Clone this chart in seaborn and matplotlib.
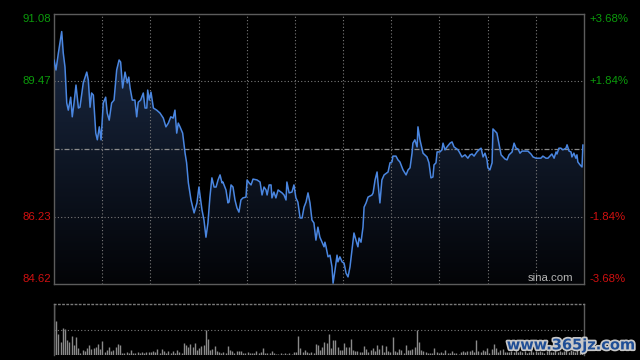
"""Intraday price and volume chart in the sina.com style."""

import numpy as np
import seaborn as sns
import matplotlib.pyplot as plt
import matplotlib.patheffects as pe
from matplotlib.colors import LinearSegmentedColormap
from matplotlib.transforms import blended_transform_factory

# --- data --------------------------------------------------------------
prev_close = 87.85
price_top = 91.08
price_bottom = 84.62
session_minutes = 241

minutes = [
    0.0, 0.9, 2.0, 3.5, 4.2, 5.0, 5.8, 6.5, 7.6, 8.3,
    9.1, 10.0, 11.1, 11.8, 13.3, 14.9, 15.6, 16.4, 17.1, 17.9,
    19.0, 19.7, 20.6, 21.4, 22.4, 23.5, 24.2, 25.1, 26.2, 27.3,
    28.5, 29.6, 30.3, 31.2, 32.3, 33.3, 34.0, 34.6, 35.6, 36.8,
    37.6, 38.3, 39.4, 40.6, 41.4, 42.2, 42.6, 43.3, 44.1, 45.2,
    46.7, 48.2, 49.7, 50.9, 52.0, 53.1, 54.2, 55.0, 55.8, 56.5,
    57.3, 58.5, 59.6, 60.3, 61.1, 61.8,
    62.3, 63.7, 65.0, 65.9, 67.3, 68.2, 69.1, 70.0, 70.9, 71.8,
    72.8, 73.7, 74.6, 75.5, 76.4, 76.8, 78.2, 79.1, 79.6, 80.5,
    81.4, 82.3, 83.2, 84.1, 85.0, 85.9, 87.3, 87.8, 88.7, 89.6,
    90.5, 92.3, 93.7, 94.6, 95.5, 96.4, 96.9, 97.8, 98.7, 99.1,
    100.0, 100.9, 101.9, 103.7, 104.6, 105.5, 105.9, 106.9, 108.2, 109.1,
    110.0, 110.9, 111.9, 112.8, 113.7, 114.6, 115.5, 116.4, 117.3, 118.2,
    119.1, 120.0, 120.9, 121.9, 122.8,
    123.2, 123.7, 124.6, 125.5, 126.4, 126.9, 127.8, 128.7, 129.1, 130.0,
    131.0, 131.9, 132.8, 133.7, 134.6, 135.5, 136.4, 137.3, 138.2, 138.7,
    139.6, 140.5, 141.0, 141.9, 142.8, 144.6, 145.1, 146.0, 146.9, 147.3,
    148.2, 149.1, 150.1, 151.4, 151.9, 152.8, 153.7, 154.1, 155.5, 156.4,
    157.3, 158.2, 158.7, 160.1, 161.0, 161.9, 162.8, 163.2, 164.1, 165.1,
    165.5, 166.4, 167.3, 167.8, 169.6, 170.5, 171.4, 172.3, 172.8, 173.7,
    174.2, 175.5, 176.4, 176.9, 177.8, 178.7, 180.1, 181.0, 181.9,
    183.7, 184.6, 185.5, 186.9, 188.2, 189.2, 190.1, 191.0, 192.3, 193.2,
    194.2, 195.1, 196.0, 196.9, 197.3, 198.2, 199.2, 199.6, 200.5, 201.4,
    202.3, 203.3, 204.2, 205.1, 206.0, 206.9, 208.3, 209.2, 210.1, 211.0,
    211.9, 212.8, 214.2, 215.5, 216.9, 217.8, 219.2, 220.1, 221.4, 222.3,
    223.7, 224.6, 225.5, 226.4, 227.4, 228.3, 228.7, 229.6, 230.5, 231.4,
    232.8, 233.3, 234.2, 235.1, 235.5, 236.4, 237.3, 237.8, 238.2, 239.2,
    240.1, 240.5,
]

prices = [
    89.98, 89.74, 90.15, 90.66, 90.15, 89.81, 88.95, 88.78, 89.09, 88.62,
    88.95, 89.38, 88.83, 88.85, 89.43, 89.69, 89.50, 88.85, 89.19, 89.14,
    88.23, 88.07, 88.38, 88.07, 88.95, 89.09, 88.71, 88.54, 88.95, 89.02,
    89.74, 89.98, 89.93, 89.31, 89.69, 89.43, 89.57, 89.31, 89.02, 89.02,
    88.62, 88.97, 89.02, 89.19, 88.83, 88.83, 89.26, 89.02, 89.21, 88.83,
    88.78, 88.71, 88.59, 88.38, 88.47, 88.62, 88.59, 88.78, 88.23, 88.47,
    88.38, 88.23, 87.75, 87.52, 87.04, 86.80,
    86.63, 86.32, 86.56, 86.94, 86.39, 86.15, 85.74, 86.08, 86.70, 87.16,
    86.94, 86.94, 87.11, 87.23, 87.04, 87.06, 86.87, 86.56, 86.58, 86.99,
    86.94, 86.63, 86.44, 86.34, 86.63, 86.68, 86.70, 87.11, 87.04, 86.99,
    87.13, 87.11, 87.06, 86.75, 86.94, 86.87, 86.75, 86.99, 86.99, 86.68,
    86.82, 86.68, 86.87, 86.80, 86.75, 86.63, 87.06, 86.80, 86.82, 86.99,
    86.68, 86.58, 86.20, 86.20, 86.46, 86.58, 86.80, 86.56, 86.15, 86.08,
    85.67, 85.98, 85.74, 85.62, 85.51,
    85.62, 85.51, 85.27, 85.31, 85.03, 84.64, 84.96, 85.31, 85.15, 85.27,
    85.15, 85.12, 84.88, 84.79, 85.03, 85.43, 85.84, 85.67, 85.51, 85.72,
    85.62, 85.98, 86.46, 86.56, 86.70, 86.75, 86.80, 87.11, 87.30, 87.06,
    86.56, 87.11, 87.23, 87.28, 87.30, 87.52, 87.54, 87.68, 87.68, 87.59,
    87.54, 87.42, 87.35, 87.23, 87.35, 87.40, 87.75, 87.99, 88.07, 87.90,
    88.38, 88.07, 87.87, 87.75, 87.66, 87.52, 87.16, 87.18, 87.47, 87.52,
    87.78, 87.78, 87.83, 87.99, 87.83, 87.90, 87.99, 88.02, 87.90,
    87.83, 87.75, 87.66, 87.71, 87.63, 87.71, 87.73, 87.68, 87.78, 87.83,
    87.87, 87.66, 87.75, 87.59, 87.40, 87.35, 87.52, 88.33, 88.28, 88.23,
    87.99, 87.71, 87.66, 87.61, 87.59, 87.71, 87.78, 87.99, 87.87, 87.85,
    87.75, 87.80, 87.80, 87.80, 87.73, 87.66, 87.63, 87.63, 87.63, 87.68,
    87.63, 87.63, 87.68, 87.73, 87.63, 87.78, 87.73, 87.87, 87.87, 87.83,
    87.87, 87.95, 87.80, 87.78, 87.66, 87.75, 87.63, 87.71, 87.54, 87.47,
    87.42, 87.95,
]

# volume per minute, in hundreds of lots
volume = [
    100, 67, 41, 26, 53, 51, 30, 26, 38, 20,
    36, 13, 3, 10, 7, 13, 20, 11, 13, 16,
    22, 11, 28, 5, 10, 15, 7, 10, 16, 22,
    20, 3, 4, 5, 4, 9, 4, 3, 5, 3,
    6, 3, 5, 6, 5, 7, 5, 12, 4, 11,
    8, 4, 8, 4, 7, 3, 10, 5, 4, 24,
    20, 16, 22, 16, 23, 10, 14, 18, 20, 50,
    31, 10, 11, 18, 8, 6, 4, 5, 3, 18,
    10, 8, 4, 8, 7, 8, 4, 3, 5, 4,
    4, 3, 8, 3, 6, 13, 4, 3, 3, 8,
    3, 2, 2, 3, 2, 3, 2, 3, 2, 5,
    5, 38, 14, 6, 10, 5, 4, 5, 4, 22,
    20, 10, 15, 26, 24, 41, 13, 30, 30, 16,
    10, 10, 23, 15, 15, 31, 10, 7, 7, 5,
    6, 18, 11, 5, 10, 13, 7, 20, 11, 20,
    5, 18, 7, 5, 36, 7, 5, 11, 10, 4,
    20, 10, 10, 11, 16, 49, 26, 10, 7, 5,
    4, 3, 4, 13, 5, 3, 5, 4, 9, 4,
    3, 7, 4, 3, 2, 5, 7, 5, 8, 7,
    9, 5, 30, 8, 5, 10, 7, 13, 4, 11,
    22, 13, 5, 10, 11, 6, 5, 6, 8, 5,
    10, 6, 8, 5, 7, 4, 6, 9, 5, 7,
    6, 8, 5, 4, 7, 9, 5, 6, 10, 6,
    8, 5, 7, 12, 6, 9, 7, 5, 11, 8,
    15,
]

left_labels = ["91.08", "89.47", "86.23", "84.62"]
right_labels = ["+3.68%", "+1.84%", "-1.84%", "-3.68%"]
label_levels = [91.08, 89.47, 86.23, 84.62]

assert len(minutes) == len(prices)

GREEN = "#0b9a0b"
RED = "#d01010"
FRAME = "#5c5c5c"
GRID = "#7a7a7a"
LINE = "#4a86e0"

sns.set_theme(style="dark", rc={
    "figure.facecolor": "black",
    "axes.facecolor": "black",
    "axes.edgecolor": FRAME,
    "axes.linewidth": 1.0,
})
plt.rcParams["font.family"] = ["Liberation Sans", "DejaVu Sans"]

fig = plt.figure(figsize=(6.4, 3.6), dpi=100)
ax = fig.add_axes([54 / 640, 1 - 284 / 360, 530 / 640, 270 / 360])
vax = fig.add_axes([54 / 640, 1 - 355 / 360, 530 / 640, 51 / 360])

# --- price panel ---------------------------------------------------------
ax.set_xlim(0, session_minutes)
ax.set_ylim(price_bottom, price_top)

cmap = LinearSegmentedColormap.from_list("fill", ["#030407", "#1c2c48"])
grad = np.linspace(1, 0, 256).reshape(-1, 1)
im = ax.imshow(grad, extent=[0, session_minutes, price_bottom, price_top],
               aspect="auto", cmap=cmap, zorder=1)
area = ax.fill_between(minutes, prices, price_bottom, color="none")
im.set_clip_path(area.get_paths()[0], ax.transData)

sns.lineplot(x=minutes, y=prices, ax=ax, color=LINE, linewidth=1.1, zorder=4)

for k in range(1, 11):
    ax.axvline(session_minutes * k / 11, color=GRID, lw=0.8,
               ls=(0, (1, 2)), zorder=2)
for lvl in (89.47, 86.23):
    ax.axhline(lvl, color=GRID, lw=0.8, ls=(0, (1, 2)), zorder=2)
ax.axhline(prev_close, color="#8c8c8c", lw=0.9, ls=(0, (4, 1.5, 1, 1.5)), zorder=2)

ax.set_xticks([])
ax.set_yticks([])
ax.set_xlabel("")
ax.set_ylabel("")
ax.grid(False)

trans_l = blended_transform_factory(ax.transAxes, ax.transData)
vas = ["top", "center", "center", "bottom"]
for i, (lvl, va) in enumerate(zip(label_levels, vas)):
    col = GREEN if i < 2 else RED
    ax.text(-0.006, lvl, left_labels[i], transform=trans_l, ha="right",
            va=va, color=col, fontsize=8.2)
    ax.text(1.011, lvl, right_labels[i], transform=trans_l, ha="left",
            va=va, color=col, fontsize=8.2)

ax.text(0.98, 0.004, "sina.com", transform=ax.transAxes, ha="right",
        va="bottom", color="#b4b4b4", fontsize=8.2, zorder=5)

# --- volume panel --------------------------------------------------------
vax.set_xlim(0, session_minutes)
vax.set_ylim(0, max(volume))
vax.vlines(range(len(volume)), 0, volume, color="#8a8a8a", lw=1.0)
vax.axhline(max(volume) / 2, color=GRID, lw=0.8, ls=(0, (1, 2)))
vax.set_xticks([])
vax.set_yticks([])
vax.grid(False)
vax.spines["top"].set_linestyle((0, (1, 2)))
vax.spines["top"].set_color(GRID)
vax.spines["bottom"].set_visible(False)

fig.text(0.993, 0.042, "www.365jz.com", ha="right", va="center",
         color="#1f4e96", fontsize=10.5, fontweight="bold",
         family=["DejaVu Sans"],
         path_effects=[pe.withStroke(linewidth=2.5, foreground="#c8c8c8")])

fig.savefig("out.png", dpi=100, facecolor="black")
plt.close(fig)
